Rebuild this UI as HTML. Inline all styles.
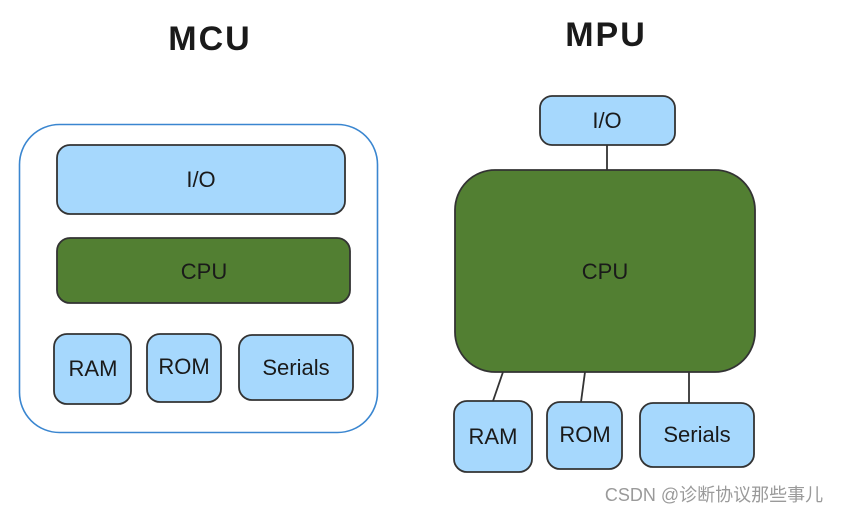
<!DOCTYPE html>
<html><head><meta charset="utf-8"><style>
html,body{margin:0;padding:0;background:#fff;}
svg{display:block;}
text{font-family:"Liberation Sans","Noto Sans CJK SC",sans-serif;fill:#1a1a1a;text-anchor:middle;}
</style></head><body>
<svg width="844" height="514" viewBox="0 0 844 514" xmlns="http://www.w3.org/2000/svg">
<text x="210" y="50" font-size="34" font-weight="bold" letter-spacing="2">MCU</text>
<text x="606" y="46" font-size="34" font-weight="bold" letter-spacing="2">MPU</text>
<rect x="19.5" y="124.5" width="358" height="308" rx="40" fill="#fff" stroke="#3a86d0" stroke-width="1.6"/>
<g stroke="#333" stroke-width="1.8">
<rect x="57" y="145" width="288" height="69" rx="13" fill="#a6d8fd"/>
<rect x="57" y="238" width="293" height="65" rx="13" fill="#527f32"/>
<rect x="54" y="334" width="77" height="70" rx="13" fill="#a6d8fd"/>
<rect x="147" y="334" width="74" height="68" rx="13" fill="#a6d8fd"/>
<rect x="239" y="335" width="114" height="65" rx="13" fill="#a6d8fd"/>
<line x1="607" y1="145" x2="607" y2="171"/>
<line x1="503" y1="372" x2="493" y2="401"/>
<line x1="585" y1="372" x2="581" y2="402"/>
<line x1="689" y1="372" x2="689" y2="403"/>
<rect x="540" y="96" width="135" height="49" rx="12" fill="#a6d8fd"/>
<rect x="455" y="170" width="300" height="202" rx="40" fill="#527f32"/>
<rect x="454" y="401" width="78" height="71" rx="13" fill="#a6d8fd"/>
<rect x="547" y="402" width="75" height="67" rx="13" fill="#a6d8fd"/>
<rect x="640" y="403" width="114" height="64" rx="13" fill="#a6d8fd"/>
</g>
<g font-size="22">
<text x="201" y="187">I/O</text>
<text x="204" y="279">CPU</text>
<text x="93" y="376">RAM</text>
<text x="184" y="374">ROM</text>
<text x="296" y="375">Serials</text>
<text x="607" y="128">I/O</text>
<text x="605" y="279">CPU</text>
<text x="493" y="444">RAM</text>
<text x="585" y="442">ROM</text>
<text x="697" y="442">Serials</text>
</g>
<text x="714" y="501" font-size="18" style="fill:#9a9a9a">CSDN @诊断协议那些事儿</text>
</svg>
</body></html>
